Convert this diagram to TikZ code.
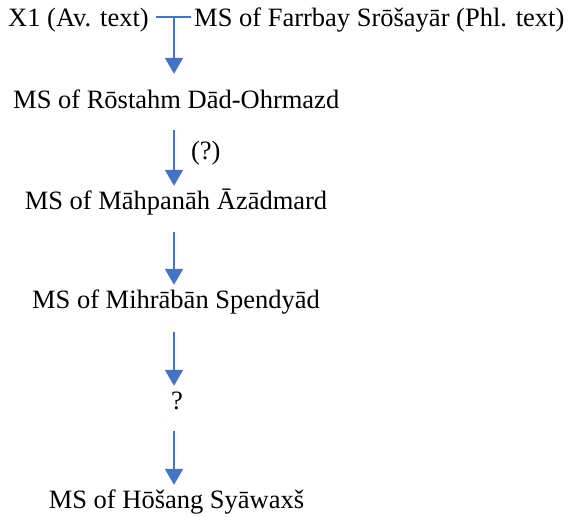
\documentclass[tikz,border=0pt]{standalone}
\usepackage{fontspec}
\setmainfont{Liberation Serif}
\usepackage{xcolor}
\usetikzlibrary{arrows.meta, positioning}
\definecolor{linkblue}{HTML}{4472C4}

\begin{document}
\begin{tikzpicture}[x=1pt, y=-1pt,
      ms/.style={inner sep=0pt, text height=23pt, text depth=6pt, text=black,
                 font=\fontsize{26.5}{30}\selectfont},
      arr/.style={-{Triangle[width=18pt, length=16pt]}, line width=2pt, linkblue,
                  shorten <=15pt},
      link/.style={line width=2pt, linkblue}
    ]
      \useasboundingbox (0,0) rectangle (572,516);
      \node[ms, anchor=base west] (x1) at (8,27) {X1 (Av. text)};
      \node[ms, anchor=base west] (farrbay) at (194,27) {MS of Farrbay Srōšayār (Phl. text)};
      \coordinate (join) at (174,17);
      \node[ms, anchor=base west] (rostahm) at (13,109) {MS of Rōstahm Dād-Ohrmazd};
      \node[ms, anchor=base] (mahpanah) at (176,209) {MS of Māhpanāh Āzādmard};
      \node[ms, anchor=base] (mihraban) at (176,308) {MS of Mihrābān Spendyād};
      \node[ms, anchor=base] (gap) at (177,409) {?};
      \node[ms, anchor=base] (hosang) at (176.5,508) {MS of Hōšang Syāwaxš};
      \draw[link] ([xshift=7pt]x1.east |- join) -- ([xshift=-3pt]farrbay.west |- join);
      \draw[arr, shorten <=0pt, shorten >=12pt] (join) -- (join |- rostahm.north);
      \draw[arr] (join |- rostahm.south) -- node[ms, right=16pt] (doubt) {(?)} (join |- mahpanah.north);
      \draw[arr, shorten <=17pt] (join |- mahpanah.south) -- (join |- mihraban.north);
      \draw[arr, shorten <=18pt] (join |- mihraban.south) -- (join |- gap.north);
      \draw[arr, shorten <=16pt] (join |- gap.south) -- (join |- hosang.north);
    \end{tikzpicture}
\end{document}
